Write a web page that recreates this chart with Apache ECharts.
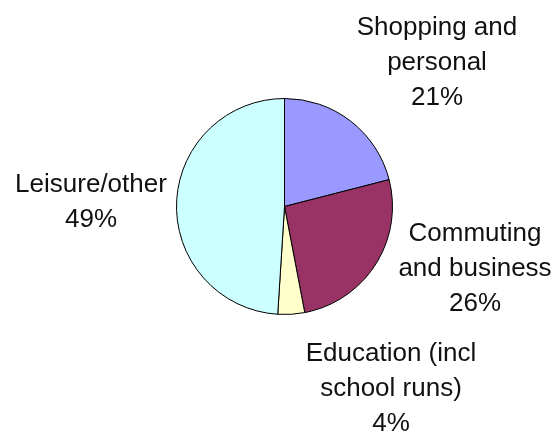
<!DOCTYPE html>
<html>
<head>
<meta charset="utf-8">
<script src="https://cdn.jsdelivr.net/npm/echarts@6/dist/echarts.min.js"></script>
<style>
  html, body { margin: 0; padding: 0; background: #ffffff; }
  #chart { width: 559px; height: 435px; }
</style>
</head>
<body>
<div id="chart"></div>
<script>
// Trip purposes and their share of all trips (percent)
const categories = [
  'Shopping and\npersonal',
  'Commuting\nand business',
  'Education (incl\nschool runs)',
  'Leisure/other'
];
const shares = [21, 26, 4, 49];
const sliceColors = ['#9999ff', '#993366', '#ffffcc', '#ccffff'];

// Label anchor points (centre of each text block), in pixels
const labelAnchors = [
  [437, 63],
  [475, 269],
  [391, 389],
  [91, 202]
];

const chart = echarts.init(document.getElementById('chart'), null, { renderer: 'canvas' });

chart.setOption({
  animation: false,
  backgroundColor: '#ffffff',
  series: [{
    type: 'pie',
    center: [284.5, 206.5],
    radius: 108,
    startAngle: 90,
    clockwise: true,
    avoidLabelOverlap: false,
    data: categories.map((name, i) => ({
      name: name,
      value: shares[i],
      itemStyle: { color: sliceColors[i] }
    })),
    itemStyle: { borderColor: '#000000', borderWidth: 1 },
    label: {
      show: true,
      position: 'outside',
      formatter: '{b}\n{c}%',
      color: '#111111',
      fontFamily: 'Liberation Sans, Arial, sans-serif',
      fontSize: 26,
      lineHeight: 35,
      align: 'center'
    },
    labelLine: { show: false },
    labelLayout: function (params) {
      const p = labelAnchors[params.dataIndex];
      return { x: p[0], y: p[1], align: 'center', verticalAlign: 'middle', hideOverlap: false };
    },
    emphasis: { disabled: true }
  }]
});
</script>
</body>
</html>
